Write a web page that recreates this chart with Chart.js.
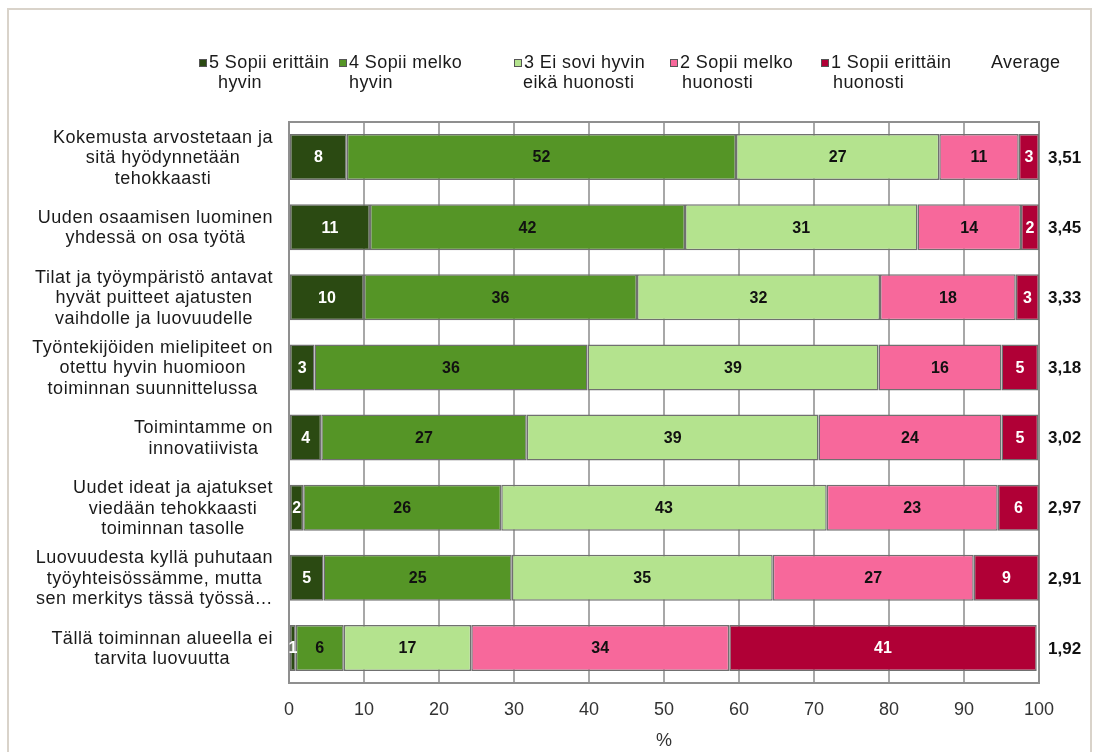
<!DOCTYPE html>
<html>
<head>
<meta charset="utf-8">
<script src="https://cdn.jsdelivr.net/npm/chart.js@4.4.1/dist/chart.umd.min.js"></script>
<style>
    html, body { margin: 0; padding: 0; background: #fff; }
    #wrap { position: relative; width: 1094px; height: 752px; overflow: hidden; }
    #marco { position: absolute; left: 7px; top: 8px; width: 1081px; height: 800px; border: 2px solid #d9d3ca; }
    canvas { position: absolute; left: 0; top: 0; }
</style>
</head>
<body>
<div id="wrap">
    <div id="marco"></div>
    <canvas id="grafico" width="1094" height="752"></canvas>
</div>
<script>
// Väittämät (kategoriat), rivitettynä kuten alkuperäisessä
const vaittamat = [
    ["Kokemusta arvostetaan ja", "sitä hyödynnetään", "tehokkaasti"],
    ["Uuden osaamisen luominen", "yhdessä on osa työtä"],
    ["Tilat ja työympäristö antavat", "hyvät puitteet ajatusten", "vaihdolle ja luovuudelle"],
    ["Työntekijöiden mielipiteet on", "otettu hyvin huomioon", "toiminnan suunnittelussa"],
    ["Toimintamme on", "innovatiivista"],
    ["Uudet ideat ja ajatukset", "viedään tehokkaasti", "toiminnan tasolle"],
    ["Luovuudesta kyllä puhutaan", "työyhteisössämme, mutta", "sen merkitys tässä työssä…"],
    ["Tällä toiminnan alueella ei", "tarvita luovuutta"]
];

// Sarjojen nimet (legenda, kaksi riviä)
const sarjaNimet = [
    ["5 Sopii erittäin", "hyvin"],
    ["4 Sopii melko", "hyvin"],
    ["3 Ei sovi hyvin", "eikä huonosti"],
    ["2 Sopii melko", "huonosti"],
    ["1 Sopii erittäin", "huonosti"]
];

// Prosenttiosuudet
const sopiiErittainHyvin = [7.7, 10.8, 10.0, 3.4, 4.3, 1.9, 4.6, 0.9];
const sopiiMelkoHyvin = [51.9, 42.0, 36.4, 36.4, 27.4, 26.4, 25.1, 6.4];
const eiSoviHyvinEikaHuonosti = [27.1, 31.0, 32.4, 38.8, 38.9, 43.4, 34.8, 17.0];
const sopiiMelkoHuonosti = [10.6, 13.8, 18.1, 16.4, 24.4, 22.8, 26.8, 34.4];
const sopiiErittainHuonosti = [2.7, 2.4, 3.1, 4.9, 4.9, 5.5, 8.7, 41.0];

// Keskiarvot
const keskiarvot = [3.51, 3.45, 3.33, 3.18, 3.02, 2.97, 2.91, 1.92];

const varit = ['#2b4a12', '#559526', '#b4e38e', '#f7689b', '#b00036'];
const tekstiVarit = ['#ffffff', '#111111', '#111111', '#111111', '#ffffff'];

const FONTTI = "'Liberation Sans', Arial, sans-serif";

const piirtoPlugin = {
    id: 'piirtoPlugin',
    beforeDatasetsDraw(chart) {
        const { ctx, chartArea } = chart;
        ctx.save();
        ctx.strokeStyle = '#8f8f8f';
        ctx.lineWidth = 2;
        ctx.strokeRect(chartArea.left, chartArea.top, chartArea.right - chartArea.left, chartArea.bottom - chartArea.top);
        ctx.restore();
    },
    afterDatasetsDraw(chart) {
        const { ctx, chartArea } = chart;
        const yScale = chart.scales.y;
        ctx.save();

        // Arvot palkkien sisällä
        ctx.font = 'bold 16px ' + FONTTI;
        ctx.textAlign = 'center';
        ctx.textBaseline = 'middle';
        chart.data.datasets.forEach((ds, di) => {
            const meta = chart.getDatasetMeta(di);
            meta.data.forEach((el, i) => {
                const p = el.getCenterPoint();
                ctx.fillStyle = tekstiVarit[di];
                ctx.fillText(String(Math.round(ds.data[i])), p.x, p.y + 1);
            });
        });

        // Keskiarvot oikealla
        ctx.font = 'bold 17px ' + FONTTI;
        ctx.textAlign = 'left';
        ctx.fillStyle = '#111';
        keskiarvot.forEach((k, i) => {
            const y = yScale.getPixelForValue(i);
            ctx.fillText(k.toFixed(2).replace('.', ','), chartArea.right + 9, y + 1);
        });

        // Kategoriat vasemmalla: lohko oikealle, rivit keskitetysti
        ctx.font = '18px ' + FONTTI;
        ctx.letterSpacing = '0.5px';
        ctx.fillStyle = '#1a1a1a';
        ctx.textAlign = 'center';
        const riviVali = 20.5;
        vaittamat.forEach((rivit, i) => {
            const yc = yScale.getPixelForValue(i);
            const leveys = Math.max(...rivit.map(r => ctx.measureText(r).width));
            const cx = chartArea.left - 16 - leveys / 2;
            rivit.forEach((r, j) => {
                ctx.fillText(r, cx, yc + (j - (rivit.length - 1) / 2) * riviVali + 1);
            });
        });
        ctx.restore();
    },
    afterDraw(chart) {
        const { ctx } = chart;
        ctx.save();
        ctx.font = '18px ' + FONTTI;
        ctx.letterSpacing = '0.4px';
        ctx.textBaseline = 'middle';
        ctx.textAlign = 'left';
        const alkuX = [199, 339, 514, 670, 821];
        const rivi1 = 63, rivi2 = 83;
        sarjaNimet.forEach((nimi, i) => {
            const x = alkuX[i];
            ctx.fillStyle = varit[i];
            ctx.fillRect(x, rivi1 - 4, 8, 8);
            ctx.strokeStyle = '#555';
            ctx.lineWidth = 1;
            ctx.strokeRect(x + 0.5, rivi1 - 3.5, 7, 7);
            ctx.fillStyle = '#1a1a1a';
            ctx.fillText(nimi[0], x + 10, rivi1);
            ctx.fillText(nimi[1], x + 19 - (i === 2 ? 10 : 0) - (i >= 3 ? 7 : 0) + (i === 1 ? -9 : 0), rivi2);
        });
        ctx.fillText('Average', 991, rivi1);
        ctx.restore();
    }
};

const ctx = document.getElementById('grafico').getContext('2d');
new Chart(ctx, {
    type: 'bar',
    data: {
        labels: vaittamat.map(r => r.join(' ')),
        datasets: [
            { label: sarjaNimet[0].join(' '), data: sopiiErittainHyvin, backgroundColor: varit[0] },
            { label: sarjaNimet[1].join(' '), data: sopiiMelkoHyvin, backgroundColor: varit[1] },
            { label: sarjaNimet[2].join(' '), data: eiSoviHyvinEikaHuonosti, backgroundColor: varit[2] },
            { label: sarjaNimet[3].join(' '), data: sopiiMelkoHuonosti, backgroundColor: varit[3] },
            { label: sarjaNimet[4].join(' '), data: sopiiErittainHuonosti, backgroundColor: varit[4] }
        ].map(d => Object.assign(d, {
            borderColor: '#707070',
            borderWidth: 1.5,
            borderSkipped: false,
            barPercentage: 0.655,
            categoryPercentage: 1
        }))
    },
    options: {
        indexAxis: 'y',
        responsive: false,
        animation: false,
        devicePixelRatio: 1,
        layout: { padding: { left: 0, right: 55, top: 122, bottom: 0 } },
        scales: {
            x: {
                stacked: true,
                min: 0,
                max: 100,
                ticks: {
                    stepSize: 10,
                    padding: 16,
                    color: '#333',
                    font: { family: FONTTI, size: 18 }
                },
                grid: { color: '#a8a8a8', lineWidth: 2, drawTicks: false },
                border: { display: false },
                title: {
                    display: true,
                    text: '%',
                    color: '#333',
                    font: { family: FONTTI, size: 18 },
                    padding: { top: 0, bottom: 0 }
                },
                afterFit: s => { s.height = 69; }
            },
            y: {
                stacked: true,
                ticks: { display: false },
                grid: { display: false },
                border: { display: false },
                afterFit: s => { s.width = 289; }
            }
        },
        plugins: {
            legend: { display: false },
            tooltip: { enabled: false }
        }
    },
    plugins: [piirtoPlugin]
});
</script>
</body>
</html>
